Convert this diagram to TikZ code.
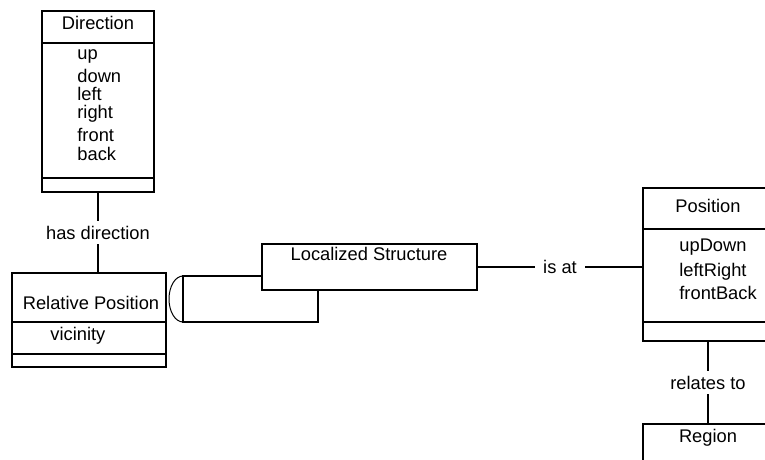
\documentclass[tikz,border=0pt]{standalone}
\usepackage{fontspec}
\setmainfont{Liberation Sans}
\usetikzlibrary{positioning}

\begin{document}
\begin{tikzpicture}[
  x=0.5pt, y=-0.5pt,
  font=\fontsize{9.15}{11}\selectfont,
  cls/.style={rectangle, draw, line width=1pt, fill=white, inner sep=0pt, outer sep=0pt, minimum width=#1},
  attr/.style={anchor=base west, inner sep=0pt},
  assoc/.style={line width=1pt},
  lbl/.style={fill=white, inner xsep=4pt, inner ysep=2.5pt}
]
  \clip (0,0) rectangle (765,460);

  % Direction
  \node[cls=56pt, minimum height=16pt] (dir) at (98,27) {};
  \node[cls=56pt, minimum height=67.5pt, below=0pt of dir] (dirB) {};
  \node[cls=56pt, minimum height=7pt, below=0pt of dirB] (dirF) {};
  \node (dirT) at (98,23) {Direction};
  \foreach \a/\y in {up/60, down/83, left/101, right/119, front/141, back/160}
    \node[attr] (dir-\a) at (77,\y) {\a};

  % Relative Position
  \node[cls=77pt, minimum height=24.5pt] (relp) at (89,297.5) {};
  \node[cls=77pt, minimum height=16pt, below=0pt of relp] (relpB) {};
  \node[cls=77pt, minimum height=6.5pt, below=0pt of relpB] (relpF) {};
  \node (relpT) at (91,303) {Relative Position};
  \node[attr] (relp-vic) at (50,340) {vicinity};

  % Localized Structure (with aggregate behind)
  \node[cls=67.5pt, minimum height=23pt] (agg) at (250.5,299) {};
  \draw[line width=0.5pt] (agg.north west) arc[start angle=90, end angle=270, x radius=7pt, y radius=11.5pt];
  \node[cls=107.5pt, minimum height=23pt] (ls) at (369.5,267) {};
  \node (lsT) at (369,254) {Localized Structure};

  % Position
  \node[cls=65pt, minimum height=20.5pt] (pos) at (708,208.5) {};
  \node[cls=65pt, minimum height=46.5pt, below=0pt of pos] (posB) {};
  \node[cls=65pt, minimum height=9.5pt, below=0pt of posB] (posF) {};
  \node (posT) at (708,206) {Position};
  \foreach \a/\y in {upDown/251, leftRight/276, frontBack/299}
    \node[attr] (pos-\a) at (679,\y) {\a};

  % Region
  \node[cls=65pt, minimum height=30pt] (reg) at (708,454) {};
  \node (regT) at (708,438) {Region};

  \draw[assoc] (dirF.south) -- node[lbl] (hasdir) {has direction} (dirF.south |- relp.north);
  \draw[assoc] (ls.east) -- node[lbl] (isat) {is at} (ls.east -| posB.west);
  \draw[assoc] (posF.south) -- node[lbl] (relto) {relates to} (reg.north);
\end{tikzpicture}
\end{document}
